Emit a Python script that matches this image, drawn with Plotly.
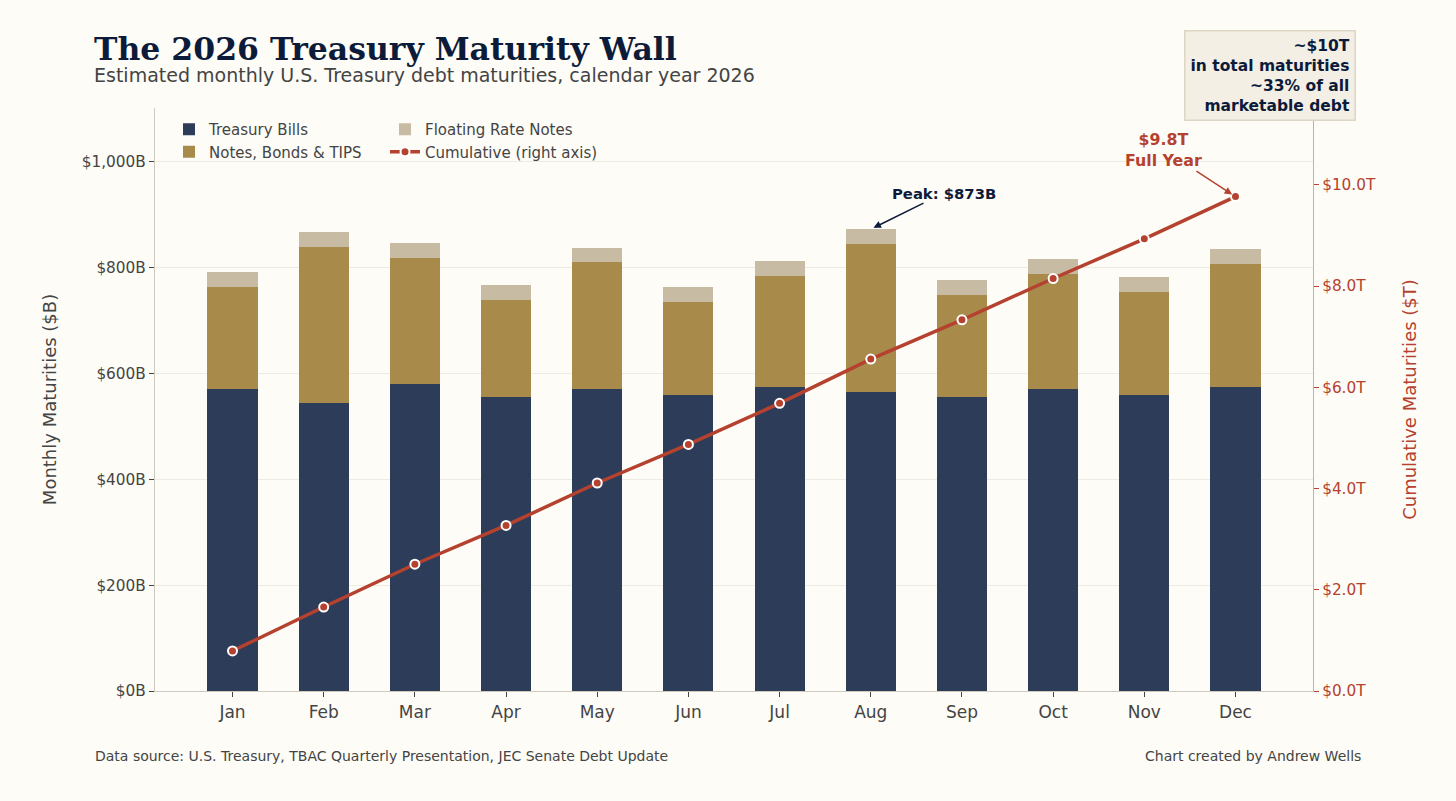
import numpy as np
import plotly.graph_objects as go

months = ["Jan", "Feb", "Mar", "Apr", "May", "Jun", "Jul", "Aug", "Sep", "Oct", "Nov", "Dec"]
bills = [570, 545, 580, 555, 570, 560, 575, 565, 555, 570, 560, 575]
notes = [194, 294, 238, 184, 240, 175, 209, 280, 194, 218, 195, 232]
frn = [28, 28, 28, 28, 28, 28, 28, 28, 28, 28, 28, 28]

left_ticks = [0, 200, 400, 600, 800, 1000]
left_labels = ["$0B", "$200B", "$400B", "$600B", "$800B", "$1,000B"]
right_ticks = [0, 2, 4, 6, 8, 10]
right_labels = ["$0.0T", "$2.0T", "$4.0T", "$6.0T", "$8.0T", "$10.0T"]

totals = np.array(bills) + np.array(notes) + np.array(frn)
cumulative = np.cumsum(totals) / 1000.0

NAVY = "#2d3c58"
GOLD = "#a88b4b"
TAN = "#c8bba3"
RED = "#b5412f"
BG = "#fdfcf7"
TXT = "#444444"
SANS = "DejaVu Sans"

fig = go.Figure()
fig.add_trace(go.Bar(x=months, y=bills, name="Treasury Bills", marker_color=NAVY,
                     marker_line_width=0, width=0.55, legend="legend"))
fig.add_trace(go.Bar(x=months, y=notes, name="Notes, Bonds & TIPS", marker_color=GOLD,
                     marker_line_width=0, width=0.55, legend="legend"))
fig.add_trace(go.Bar(x=months, y=frn, name="Floating Rate Notes", marker_color=TAN,
                     marker_line_width=0, width=0.55, legend="legend2"))
fig.add_trace(go.Scatter(x=months, y=cumulative, name="Cumulative (right axis)", yaxis="y2",
                         mode="lines+markers", line=dict(color=RED, width=3.5),
                         marker=dict(color=RED, size=9, line=dict(color="white", width=2)),
                         legend="legend2"))

# paper-coordinate helpers (plot area 155..1313 x, 108..691 y)
def px(v):
    return (v - 155) / 1158.0

def py(v):
    return (691 - v) / 583.0

annotations = [
    dict(text="<b>The 2026 Treasury Maturity Wall</b>", x=px(92), y=py(49), xref="paper", yref="paper",
         xanchor="left", yanchor="middle", showarrow=False,
         font=dict(family="DejaVu Serif", size=31.5, color="#0d1b3a")),
    dict(text="Estimated monthly U.S. Treasury debt maturities, calendar year 2026", x=px(92), y=py(75),
         xref="paper", yref="paper", xanchor="left", yanchor="middle", showarrow=False,
         font=dict(family=SANS, size=19, color=TXT)),
    dict(text="Data source: U.S. Treasury, TBAC Quarterly Presentation, JEC Senate Debt Update",
         x=px(93), y=py(756), xref="paper", yref="paper", xanchor="left", yanchor="middle",
         showarrow=False, font=dict(family=SANS, size=14, color=TXT)),
    dict(text="Chart created by Andrew Wells", x=px(1363), y=py(756), xref="paper", yref="paper",
         xanchor="right", yanchor="middle", showarrow=False, font=dict(family=SANS, size=14, color=TXT)),
    dict(text="<b>~$10T<br>in total maturities<br>~33% of all<br>marketable debt</b>",
         x=px(1356), y=py(30), xref="paper", yref="paper", xanchor="right", yanchor="top",
         align="right", showarrow=False, bgcolor="#f3efe4", bordercolor="#ddd6c5", borderwidth=1.5,
         borderpad=5, font=dict(family=SANS, size=15.5, color="#0d1b3a")),
    dict(text="<b>Peak: $873B</b>", x="Aug", y=totals[7], xref="x", yref="y",
         ax=73, ay=-36, showarrow=True, arrowhead=2, arrowsize=1, arrowwidth=1.5,
         arrowcolor="#0d1b3a", standoff=3, font=dict(family=SANS, size=14.8, color="#0d1b3a")),
    dict(text="<b>$9.8T<br>Full Year</b>", x="Dec", y=cumulative[-1], xref="x", yref="y2",
         ax=-72, ay=-47, showarrow=True, arrowhead=2, arrowsize=1, arrowwidth=1.5,
         arrowcolor=RED, standoff=4, font=dict(family=SANS, size=15.8, color=RED)),
]

fig.update_layout(
    width=1456, height=801,
    margin=dict(l=155, r=143, t=108, b=110),
    paper_bgcolor=BG, plot_bgcolor=BG,
    barmode="stack", bargap=0.45,
    font=dict(family=SANS, color=TXT),
    showlegend=True,
    legend=dict(x=px(169), y=py(113), xanchor="left", yanchor="top", bgcolor="rgba(0,0,0,0)",
                traceorder="normal", font=dict(family=SANS, size=15, color=TXT),
                tracegroupgap=0, itemwidth=30),
    legend2=dict(x=px(385), y=py(113), xanchor="left", yanchor="top", bgcolor="rgba(0,0,0,0)",
                 traceorder="normal", font=dict(family=SANS, size=15, color=TXT),
                 tracegroupgap=0, itemwidth=30),
    xaxis=dict(range=[-0.85, 11.85], showgrid=False, showline=True, linecolor="#cfcac0", linewidth=1.2,
               ticks="outside", ticklen=5, tickcolor=TXT, tickfont=dict(size=17, color=TXT)),
    yaxis=dict(range=[0, 1102], tickvals=left_ticks, ticktext=left_labels, showgrid=True,
               gridcolor="#eeebe3", gridwidth=1, showline=True, linecolor="#cfcac0", linewidth=1.2,
               ticks="outside", ticklen=5, tickcolor=TXT, zeroline=False,
               tickfont=dict(size=15.3, color=TXT),
               title=dict(text="Monthly Maturities ($B)", font=dict(size=18, color=TXT), standoff=20)),
    yaxis2=dict(range=[0, 11.52], tickvals=right_ticks, ticktext=right_labels, overlaying="y",
                side="right", showgrid=False, showline=True, linecolor="#d9a79e", linewidth=1.2,
                ticks="outside", ticklen=5, tickcolor=RED, zeroline=False,
                tickfont=dict(size=15.3, color=RED),
                title=dict(text="Cumulative Maturities ($T)", font=dict(size=18, color=RED), standoff=28)),
    annotations=annotations,
)

fig.write_html("out.html", config={"displayModeBar": False},
               post_script="document.body.style.margin='0px';")
